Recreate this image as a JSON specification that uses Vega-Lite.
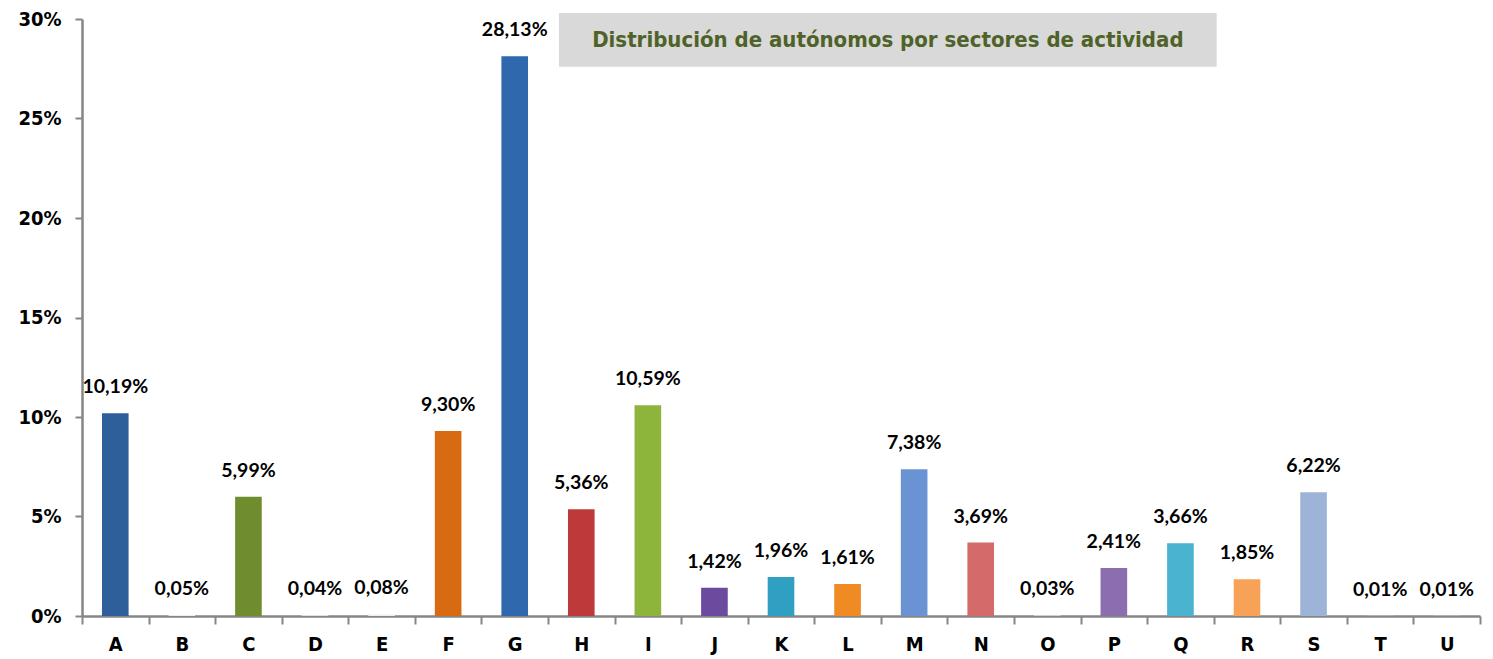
{
  "$schema": "https://vega.github.io/schema/vega-lite/v6.json",
  "width": 1398,
  "height": 597,
  "autosize": "none",
  "padding": {"left": 82, "top": 19, "right": 13, "bottom": 43},
  "background": "white",
  "config": {
    "view": {"stroke": null},
    "locale": {"number": {"decimal": ",", "thousands": ".", "grouping": [3], "currency": ["", " €"]}}
  },
  "datasets": {
    "sectores": [
      {"sector": "A", "valor": 0.1019},
      {"sector": "B", "valor": 0.0005},
      {"sector": "C", "valor": 0.0599},
      {"sector": "D", "valor": 0.0004},
      {"sector": "E", "valor": 0.0008},
      {"sector": "F", "valor": 0.0930},
      {"sector": "G", "valor": 0.2813},
      {"sector": "H", "valor": 0.0536},
      {"sector": "I", "valor": 0.1059},
      {"sector": "J", "valor": 0.0142},
      {"sector": "K", "valor": 0.0196},
      {"sector": "L", "valor": 0.0161},
      {"sector": "M", "valor": 0.0738},
      {"sector": "N", "valor": 0.0369},
      {"sector": "O", "valor": 0.0003},
      {"sector": "P", "valor": 0.0241},
      {"sector": "Q", "valor": 0.0366},
      {"sector": "R", "valor": 0.0185},
      {"sector": "S", "valor": 0.0622},
      {"sector": "T", "valor": 0.0001},
      {"sector": "U", "valor": 0.0001}
    ],
    "titulo": [
      {"texto": "Distribución de autónomos por sectores de actividad", "desde": "H", "hasta": "R", "centro": "M", "arriba": 0.303, "abajo": 0.276, "medio": 0.2895}
    ]
  },
  "layer": [
    {
      "data": {"name": "sectores"},
      "mark": {"type": "bar", "width": {"band": 0.4}},
      "encoding": {
        "x": {
          "field": "sector", "type": "nominal", "sort": null, "title": null,
          "scale": {"paddingInner": 0, "paddingOuter": 0},
          "axis": {
            "labelAngle": 0, "labelFont": "DejaVu Sans Condensed", "labelFontWeight": "bold",
            "labelFontSize": 20, "labelColor": "#000000", "labelPadding": 10,
            "tickBand": "extent", "tickSize": 8, "tickColor": "#868686", "tickWidth": 2,
            "domainColor": "#868686", "domainWidth": 2.5
          }
        },
        "y": {
          "field": "valor", "type": "quantitative", "title": null,
          "scale": {"domain": [0, 0.3], "nice": false},
          "axis": {
            "values": [0, 0.05, 0.1, 0.15, 0.2, 0.25, 0.3], "format": ".0%", "grid": false,
            "labelFont": "DejaVu Sans Condensed", "labelFontWeight": "bold", "labelFontSize": 20,
            "labelColor": "#000000", "labelPadding": 14,
            "tickSize": 7, "tickColor": "#868686", "tickWidth": 2,
            "domainColor": "#868686", "domainWidth": 2.5
          }
        },
        "color": {
          "field": "sector", "type": "nominal", "legend": null,
          "scale": {
            "domain": ["A","B","C","D","E","F","G","H","I","J","K","L","M","N","O","P","Q","R","S","T","U"],
            "range": ["#2F5F9A","#E8EEF6","#6F8D2E","#F0F0F0","#F0F0F0","#D86A12","#3068AE","#BE3A3A","#8DB53C","#6C4A9E","#2FA0C2","#F08A22","#6A93D3","#D46A6A","#F0F0F0","#8B6DB0","#4AB4D0","#F7A257","#9EB3D8","#F0F0F0","#F0F0F0"]
          }
        }
      }
    },
    {
      "data": {"name": "sectores"},
      "mark": {"type": "text", "font": "Lato", "fontWeight": "bold", "fontSize": 19.5, "color": "#000000", "baseline": "alphabetic", "dy": -20},
      "encoding": {
        "x": {"field": "sector", "type": "nominal", "sort": null},
        "y": {"field": "valor", "type": "quantitative"},
        "text": {"field": "valor", "type": "quantitative", "format": ".2%"}
      }
    },
    {
      "data": {"name": "titulo"},
      "mark": {"type": "rect", "color": "#D9D9D9", "xOffset": 11, "x2Offset": 3},
      "encoding": {
        "x": {"field": "desde", "type": "nominal", "bandPosition": 0},
        "x2": {"field": "hasta", "bandPosition": 0},
        "y": {"field": "arriba", "type": "quantitative"},
        "y2": {"field": "abajo"}
      }
    },
    {
      "data": {"name": "titulo"},
      "mark": {"type": "text", "font": "DejaVu Sans Condensed", "fontWeight": "bold", "fontSize": 22, "color": "#4F6228", "align": "center", "baseline": "middle", "dx": 7},
      "encoding": {
        "x": {"field": "centro", "type": "nominal", "bandPosition": 0},
        "y": {"field": "medio", "type": "quantitative"},
        "text": {"field": "texto", "type": "nominal"}
      }
    }
  ]
}
